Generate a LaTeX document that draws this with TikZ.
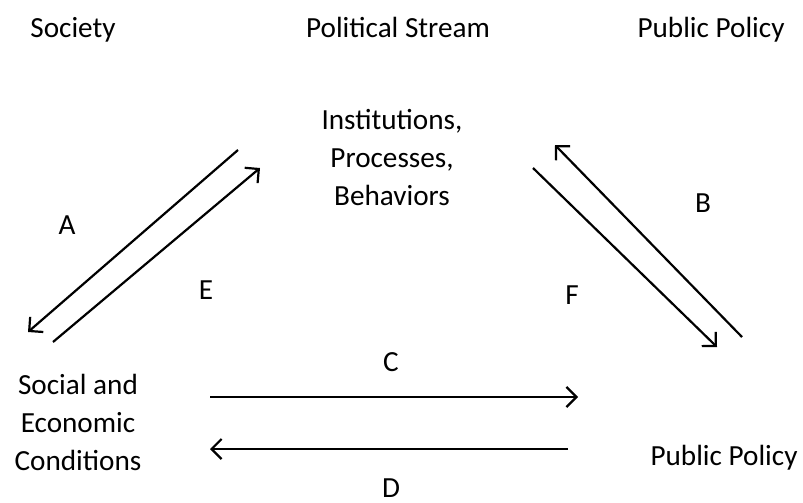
\documentclass[tikz,border=0pt]{standalone}
\usepackage{fontspec}
\setmainfont{Carlito}
\usetikzlibrary{arrows.meta}
\tikzset{
  lbl/.style={font=\fontsize{14.6}{19}\selectfont, inner sep=0pt, anchor=base},
  flow/.style={line width=1.1pt, -{Straight Barb[length=5pt, width=10pt]}}
}

\begin{document}
\begin{tikzpicture}[x=0.5pt, y=-0.5pt]
    \useasboundingbox (0,0) rectangle (803,503);
    % column headings
    \node[lbl] (society) at (73,37) {Society};
    \node[lbl] (polstream) at (398,37) {Political Stream};
    \node[lbl] (pubhead) at (711,37) {Public Policy};
    % the three corners (base = last line)
    \node[lbl, align=center] (inst) at (392,205) {Institutions,\\Processes,\\Behaviors};
    \node[lbl, align=center] (soc) at (78,470) {Social and\\Economic\\Conditions};
    \node[lbl] (policy) at (724,465) {Public Policy};
    % ends of the flows
    \coordinate (a0) at (238,150);  \coordinate (a1) at (28,332);
    \coordinate (e0) at (53,342);   \coordinate (e1) at (260,168);
    \coordinate (b0) at (742,337);  \coordinate (b1) at (555,145);
    \coordinate (f0) at (533,168);  \coordinate (f1) at (717,347);
    \coordinate (c0) at (210,397);  \coordinate (c1) at (578,397);
    \coordinate (d0) at (568,449);  \coordinate (d1) at (210,449);
    \foreach \from/\to in {a0/a1, e0/e1, b0/b1, f0/f1, c0/c1, d0/d1}
      \draw[flow] (\from) -- (\to);
    % flow letters
    \foreach \name/\x/\y/\txt in {labA/67/234/A, labE/206/299/E, labB/703/212/B,
                                  labF/572/304/F, labC/391/371/C, labD/391/497/D}
      \node[lbl] (\name) at (\x,\y) {\txt};
\end{tikzpicture}
\end{document}
